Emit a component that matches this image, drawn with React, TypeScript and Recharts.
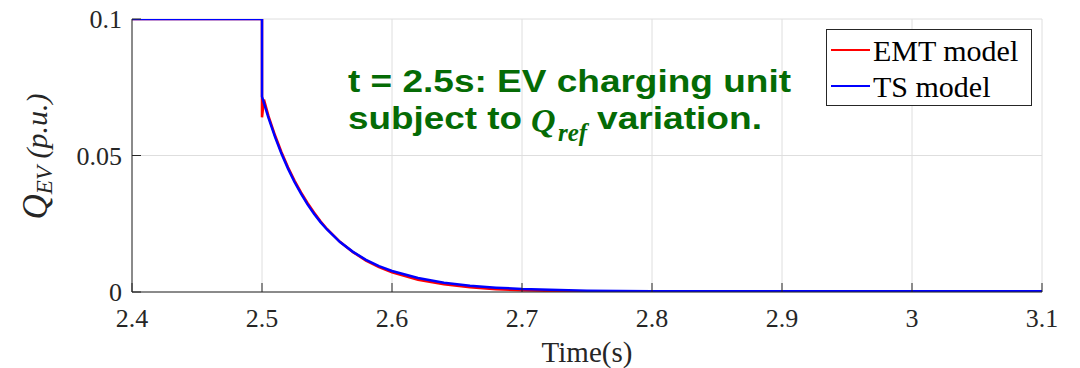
import React from "react";
import {
  LineChart,
  Line,
  XAxis,
  YAxis,
  CartesianGrid,
  Legend,
} from "recharts";

// time (s) and reactive power of the EV charging unit (p.u.)
const TIME = [
  2.4, 2.5, 2.5, 2.5015, 2.505, 2.51, 2.515, 2.52, 2.525, 2.53, 2.535, 2.54,
  2.545, 2.55, 2.56, 2.57, 2.58, 2.59, 2.6, 2.62, 2.64, 2.66, 2.68, 2.7, 2.75,
  2.8, 2.9, 3.0, 3.1,
];
const EMT = [
  0.1, 0.1, 0.064, 0.0705, 0.0644, 0.0574, 0.0512, 0.0457, 0.0408, 0.0365,
  0.0326, 0.0291, 0.0259, 0.0231, 0.0184, 0.0146, 0.0115, 0.0091, 0.0072,
  0.0045, 0.0028, 0.0017, 0.001, 0.0006, 0.0002, 0.0001, 0.0, 0.0, 0.0,
];
const TS = [
  0.1, 0.1, 0.0716, 0.0692, 0.0638, 0.0568, 0.0506, 0.0452, 0.0403, 0.036,
  0.0321, 0.0287, 0.0256, 0.0229, 0.0183, 0.0147, 0.0118, 0.0095, 0.0077,
  0.0051, 0.0034, 0.0023, 0.0016, 0.0011, 0.0005, 0.0003, 0.0003, 0.0003,
  0.0003,
];
const X_TICKS = [2.4, 2.5, 2.6, 2.7, 2.8, 2.9, 3.0, 3.1];
const Y_TICKS = [0, 0.05, 0.1];

const data = TIME.map((t, i) => ({ t, emt: EMT[i], ts: TS[i] }));

const SERIF = '"Liberation Serif", "Times New Roman", serif';
const SANS = '"Liberation Sans", Arial, sans-serif';
const AXIS = "#262626";
const GREEN = "#056b05";

function XTick(props: any) {
  const { x, y, payload } = props;
  return (
    <text
      x={x}
      y={y + 18.5}
      textAnchor="middle"
      fill={AXIS}
      fontSize={26}
      style={{ fontFamily: SERIF }}
    >
      {String(payload.value)}
    </text>
  );
}

function YTick(props: any) {
  const { x, y, payload } = props;
  return (
    <text
      x={x}
      y={y + 9}
      textAnchor="end"
      fill={AXIS}
      fontSize={26}
      style={{ fontFamily: SERIF }}
    >
      {String(payload.value)}
    </text>
  );
}

function YLabel(props: any) {
  const vb = props.viewBox || { x: 0, y: 19, width: 132, height: 273 };
  const cx = vb.x + 47;
  const cy = vb.y + vb.height / 2 + 1;
  return (
    <text
      transform={`translate(${cx},${cy}) rotate(-90)`}
      textAnchor="middle"
      fill={AXIS}
      fontFamily={SERIF}
      fontStyle="italic"
    >
      <tspan fontSize={35}>Q</tspan>
      <tspan fontSize={23} dy={5}>EV</tspan>
      <tspan fontSize={30} dy={-5}> (p.u.)</tspan>
    </text>
  );
}

function XLabel(props: any) {
  const vb = props.viewBox || { x: 132, y: 292, width: 910, height: 76 };
  return (
    <text
      x={vb.x + vb.width / 2}
      y={vb.y + 70}
      textAnchor="middle"
      fill={AXIS}
      fontFamily={SERIF}
      fontSize={29}
    >
      Time(s)
    </text>
  );
}

function LegendBox(props: any) {
  const items = props.payload || [];
  return (
    <svg width={207} height={78} style={{ display: "block" }}>
      <rect x={0.5} y={0.5} width={205} height={76} fill="#fff" stroke={AXIS} strokeWidth={1} />
      {items.map((entry: any, i: number) => (
        <g key={entry.value}>
          <line x1={5} x2={44} y1={21 + i * 36} y2={21 + i * 36} stroke={entry.color} strokeWidth={2} />
          <text x={47} y={32 + i * 36} fontFamily={SERIF} fontSize={30} fill="#000">
            {entry.value}
          </text>
        </g>
      ))}
    </svg>
  );
}

export default function App() {
  return (
    <div style={{ position: "absolute", left: 0, top: 0, width: 1080, height: 368, background: "#fff" }}>
      <LineChart
        width={1080}
        height={368}
        data={data}
        margin={{ top: 19, right: 38, bottom: 0, left: 0 }}
        style={{ fontFamily: SERIF }}
      >
        <CartesianGrid stroke="#dedede" strokeWidth={1} />
        <XAxis
          dataKey="t"
          type="number"
          domain={[2.4, 3.1]}
          ticks={X_TICKS}
          allowDataOverflow
          height={76}
          stroke={AXIS}
          tickSize={-9}
          tickMargin={25}
          tick={<XTick />}
          label={<XLabel />}
        />
        <XAxis
          xAxisId="top"
          orientation="top"
          dataKey="t"
          type="number"
          domain={[2.4, 3.1]}
          ticks={X_TICKS}
          allowDataOverflow
          height={0}
          stroke={AXIS}
          tickSize={-9}
          tick={false}
        />
        <YAxis
          type="number"
          domain={[0, 0.1]}
          ticks={Y_TICKS}
          allowDataOverflow
          width={132}
          stroke={AXIS}
          tickSize={-9}
          tickMargin={19}
          tick={<YTick />}
          label={<YLabel />}
        />
        <YAxis
          yAxisId="right"
          orientation="right"
          type="number"
          domain={[0, 0.1]}
          ticks={Y_TICKS}
          allowDataOverflow
          width={0}
          stroke={AXIS}
          tickSize={-9}
          tick={false}
        />
        <Legend
          layout="vertical"
          align="center"
          verticalAlign="middle"
          width={207}
          height={78}
          wrapperStyle={{ left: 826, top: 29, width: 207, height: 78 }}
          content={<LegendBox />}
        />
        <Line
          type="linear"
          dataKey="emt"
          name="EMT model"
          stroke="#ff0000"
          strokeWidth={2.5}
          dot={false}
          activeDot={false}
          isAnimationActive={false}
        />
        <Line
          type="linear"
          dataKey="ts"
          name="TS model"
          stroke="#0000ff"
          strokeWidth={2.5}
          dot={false}
          activeDot={false}
          isAnimationActive={false}
        />
      </LineChart>
      <svg
        width={1080}
        height={368}
        style={{ position: "absolute", left: 0, top: 0, pointerEvents: "none" }}
      >
        <g fill={GREEN} fontWeight="bold">
          <text x={348} y={92} fontFamily={SANS} fontSize={31} textLength={443} lengthAdjust="spacingAndGlyphs">
            t = 2.5s: EV charging unit
          </text>
          <text x={348} y={129} fontFamily={SANS} fontSize={31} textLength={174} lengthAdjust="spacingAndGlyphs">
            subject to
          </text>
          <text x={531} y={132} fontFamily={SERIF} fontStyle="italic" fontSize={34}>
            Q
          </text>
          <text x={558} y={141} fontFamily={SERIF} fontStyle="italic" fontSize={25}>
            ref
          </text>
          <text x={597} y={129} fontFamily={SANS} fontSize={31} textLength={165} lengthAdjust="spacingAndGlyphs">
            variation.
          </text>
        </g>
      </svg>
    </div>
  );
}
